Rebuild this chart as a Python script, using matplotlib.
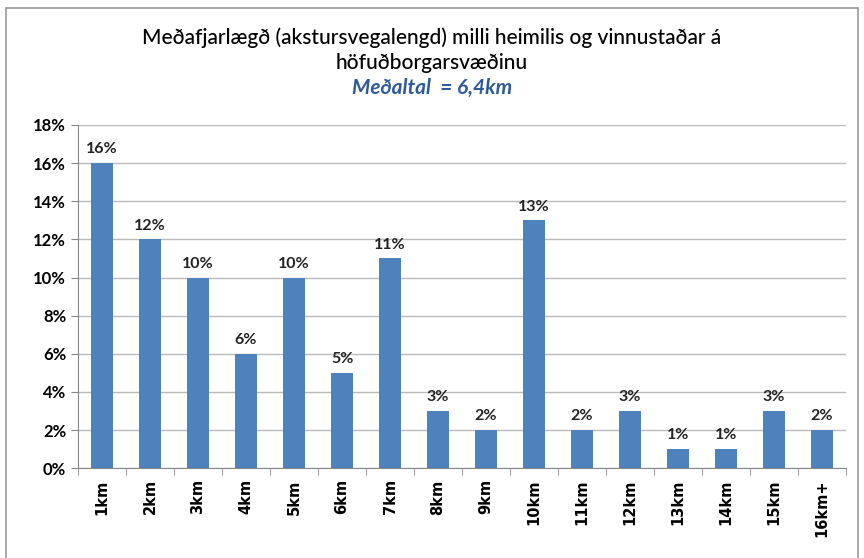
import matplotlib.pyplot as plt
import matplotlib.patches as patches
import numpy as np

categories = ['1km', '2km', '3km', '4km', '5km', '6km', '7km', '8km', '9km',
              '10km', '11km', '12km', '13km', '14km', '15km', '16km+']
values = [16, 12, 10, 6, 10, 5, 11, 3, 2, 13, 2, 3, 1, 1, 3, 2]
yticks = [0, 2, 4, 6, 8, 10, 12, 14, 16, 18]

plt.rcParams['font.family'] = ['Lato', 'DejaVu Sans']

fig = plt.figure(figsize=(8.64, 5.58), dpi=100)
ax = fig.add_axes([0.0903, 0.161, 0.889, 0.615])

x = np.arange(len(categories))
ax.bar(x, values, width=0.46, color='#4F81BD', zorder=3)
for xi, v in zip(x, values):
    ax.text(xi, v + 0.35, '%d%%' % v, ha='center', va='bottom',
            fontsize=11.5, fontweight='bold', color='#222222')

ax.set_xlim(-0.5, len(categories) - 0.5)
ax.set_ylim(0, 18)
ax.set_yticks(yticks)
ax.set_yticklabels(['%d%%' % t for t in yticks], fontsize=12, fontweight='bold')
ax.set_xticks(x)
ax.set_xticklabels(categories, rotation=90, fontsize=10.5, fontweight='bold',
                   family='DejaVu Sans')
ax.set_xticks(np.arange(-0.5, len(categories)), minor=True)
ax.tick_params(axis='x', which='major', length=0, pad=8)
ax.tick_params(axis='x', which='minor', length=5, color='#888888')
ax.tick_params(axis='y', length=5, color='#888888')
ax.grid(axis='y', color='#BBBBBB', linewidth=1, zorder=0)
for s in ['top', 'right']:
    ax.spines[s].set_visible(False)
ax.spines['left'].set_color('#888888')
ax.spines['bottom'].set_color('#888888')

fig.text(0.5, 0.932, 'Meðafjarlægð (akstursvegalengd) milli heimilis og vinnustaðar á',
         ha='center', va='center', fontsize=15, fontweight='medium')
fig.text(0.5, 0.887, 'höfuðborgarsvæðinu', ha='center', va='center', fontsize=15,
         fontweight='medium')
fig.text(0.5, 0.842, 'Meðaltal  = 6,4km', ha='center', va='center', fontsize=15,
         style='italic', fontweight='bold', color='#2E5A9A')

fig.patches.append(patches.Rectangle((0.007, -0.01), 0.986, 0.996, transform=fig.transFigure,
                                     fill=False, edgecolor='#999999', linewidth=1.2))

fig.savefig('out.png', dpi=100)
